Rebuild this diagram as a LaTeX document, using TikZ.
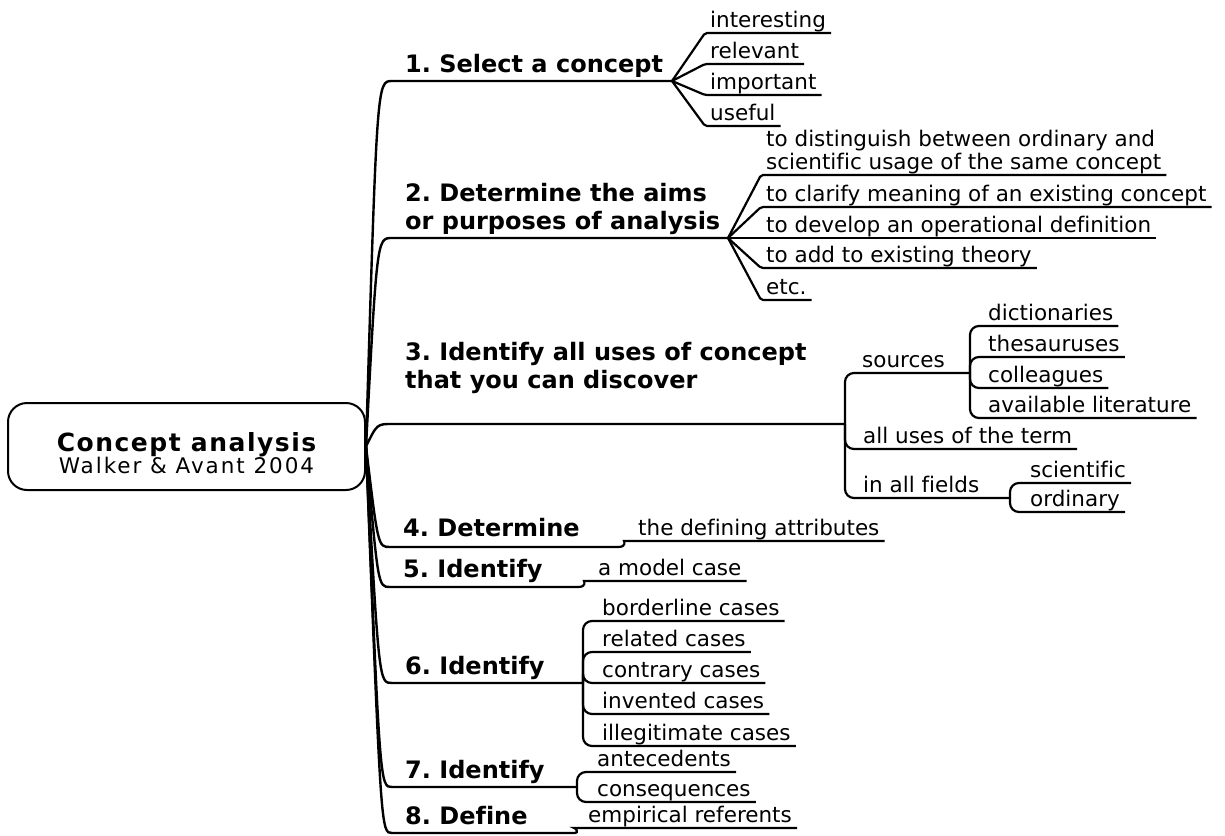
\documentclass[tikz,border=0pt]{standalone}
\usepackage{fontspec}
\setmainfont{DejaVu Sans}[Ligatures=NoCommon]
\newfontfamily\rootfont[LetterSpace=6]{DejaVu Sans}
\newfontfamily\authorfont[LetterSpace=9]{DejaVu Sans}
\frenchspacing

\begin{document}
\begin{tikzpicture}[x=1pt,y=-1pt]
\tikzset{RootStyle/.style =
	{draw,
		rounded corners = 19pt,
		line width = 2pt,
		minimum width = 357pt,
		minimum height = 87pt,
		align = center,
		inner sep = 0pt,
		font = \fontsize{21.5}{19}\selectfont},
	TopicStyle/.style =
	{anchor = south west,
		align = left,
		font = \fontsize{24}{28}\selectfont\bfseries,
		inner xsep = 13pt,
		inner ysep = 2pt,
		text depth = 6pt},
	LeafStyle/.style =
	{anchor = south west,
		align = left,
		font = \fontsize{21.5}{23.5}\selectfont,
		inner xsep = 5pt,
		inner ysep = 1pt,
		text depth = 4pt},
	Trunk/.style = {line width = 2.4pt, line cap = round},
	Twig/.style = {line width = 2.2pt, rounded corners = 9pt},
	Fan/.style = {line width = 2.2pt, rounded corners = 2pt}}
\fill[white] (0,0) rectangle (1225,835);
\useasboundingbox (0,0) rectangle (1225,835);

\node[RootStyle] (root) at (186.5,446.5)
	{\rule{0pt}{33pt}{\rootfont\fontsize{25}{25}\selectfont\bfseries Concept analysis}\\[-1pt]
	 {\authorfont Walker \& Avant 2004}};

% main topics
\node[TopicStyle] (t1) at (392,81) {1. Select a concept};
\node[TopicStyle] (t2) at (392,238) {2. Determine the aims\\or purposes of analysis};
\node[TopicStyle, yshift=27pt] (t3) at (392,424) {3. Identify all uses of concept\\that you can discover};
\node[TopicStyle, inner ysep=4pt] (t4) at (390,547) {4. Determine};
\node[TopicStyle, inner ysep=3pt] (t5) at (390,587) {5. Identify};
\node[TopicStyle] (t6) at (392,683) {6. Identify};
\node[TopicStyle] (t7) at (392,787) {7. Identify};
\node[TopicStyle] (t8) at (392,833) {8. Define};

\coordinate (f1) at (672,81);
\coordinate (f2) at (728,238);
\coordinate (f3) at (845,424);
\coordinate (f4) at (618,547);
\coordinate (f5) at (578,587);
\coordinate (f6) at (583,683);
\coordinate (f7) at (577,787);
\coordinate (f8) at (575,833);
\coordinate (fs) at (970,373);
\coordinate (ff) at (1010,498);

% 1
\node[LeafStyle] (l11) at (705,33) {interesting};
\node[LeafStyle] (l12) at (705,64) {relevant};
\node[LeafStyle] (l13) at (705,95) {important};
\node[LeafStyle] (l14) at (705,126) {useful};
% 2
\node[LeafStyle] (l21) at (761,175) {to distinguish between ordinary and\\scientific usage of the same concept};
\node[LeafStyle] (l22) at (761,207) {to clarify meaning of an existing concept};
\node[LeafStyle] (l23) at (761,238) {to develop an operational definition};
\node[LeafStyle] (l24) at (761,268) {to add to existing theory};
\node[LeafStyle] (l25) at (761,300) {etc.};
% 3
\node[LeafStyle] (l31) at (857,373) {sources};
\node[LeafStyle] (l32) at (858,449) {all uses of the term};
\node[LeafStyle] (l33) at (858,498) {in all fields};
\node[LeafStyle] (s1) at (983,326) {dictionaries};
\node[LeafStyle] (s2) at (983,357) {thesauruses};
\node[LeafStyle] (s3) at (983,388) {colleagues};
\node[LeafStyle] (s4) at (983,418) {available literature};
\node[LeafStyle] (a1) at (1025,483) {scientific};
\node[LeafStyle] (a2) at (1025,512) {ordinary};
% 4 - 8
\node[LeafStyle] (l41) at (633,541) {the defining attributes};
\node[LeafStyle] (l51) at (593,581) {a model case};
\node[LeafStyle] (l61) at (597,621) {borderline cases};
\node[LeafStyle] (l62) at (597,652) {related cases};
\node[LeafStyle] (l63) at (597,683) {contrary cases};
\node[LeafStyle] (l64) at (597,714) {invented cases};
\node[LeafStyle] (l65) at (597,746) {illegitimate cases};
\node[LeafStyle] (l71) at (592,772) {antecedents};
\node[LeafStyle] (l72) at (592,802) {consequences};
\node[LeafStyle] (l81) at (583,828) {empirical referents};

% trunk
\draw[Trunk] (root.east) .. controls (377,81) .. (t1.south west) -- (f1);
\draw[Trunk] (root.east) .. controls (377,238) .. (t2.south west) -- (f2);
\draw[Trunk] (root.east) .. controls (377,424) .. (t3.south west |- f3) -- (f3);
\draw[Trunk] (root.east) .. controls (378,547) .. (t4.south west) -- (f4);
\draw[Trunk] (root.east) .. controls (378,587) .. (t5.south west) -- (f5);
\draw[Trunk] (root.east) .. controls (379,683) .. (t6.south west) -- (f6);
\draw[Trunk] (root.east) .. controls (380,787) .. (t7.south west) -- (f7);
\draw[Trunk] (root.east) .. controls (381,833) .. (t8.south west) -- (f8);

\draw[Fan] (f1) -- (l11.south west) -- (l11.south east);
\draw[Fan] (f1) -- (l12.south west) -- (l12.south east);
\draw[Fan] (f1) -- (l13.south west) -- (l13.south east);
\draw[Fan] (f1) -- (l14.south west) -- (l14.south east);

\draw[Fan] (f2) -- (l21.south west) -- (l21.south east);
\draw[Fan] (f2) -- (l22.south west) -- (l22.south east);
\draw[Fan] (f2) -- (l23.south east);
\draw[Fan] (f2) -- (l24.south west) -- (l24.south east);
\draw[Fan] (f2) -- (l25.south west) -- (l25.south east);

\draw[Twig] (f3) |- (l31.south east) -- (fs);
\draw[Twig] (f3) |- (l32.south east);
\draw[Twig] (f3) |- (l33.south east) -- (ff);
\draw[Twig] (fs) |- (s1.south east);
\draw[Twig] (fs) |- (s2.south east);
\draw[Twig] (fs) |- (s3.south east);
\draw[Twig] (fs) |- (s4.south east);
\draw[Twig] (ff) |- (a1.south east);
\draw[Twig] (ff) |- (a2.south east);

\draw[Twig] (f4) .. controls (627,547) and (624,541) .. (l41.south west) -- (l41.south east);
\draw[Twig] (f5) .. controls (587,587) and (584,581) .. (l51.south west) -- (l51.south east);
\draw[Twig] (f6) |- (l61.south east);
\draw[Twig] (f6) |- (l62.south east);
\draw[Twig] (f6) |- (l63.south east);
\draw[Twig] (f6) |- (l64.south east);
\draw[Twig] (f6) |- (l65.south east);
\draw[Twig] (f7) |- (l71.south east);
\draw[Twig] (f7) |- (l72.south east);
\draw[Twig] (f8) .. controls (579,833) and (576,828) .. (l81.south west) -- (l81.south east);

\end{tikzpicture}
\end{document}
